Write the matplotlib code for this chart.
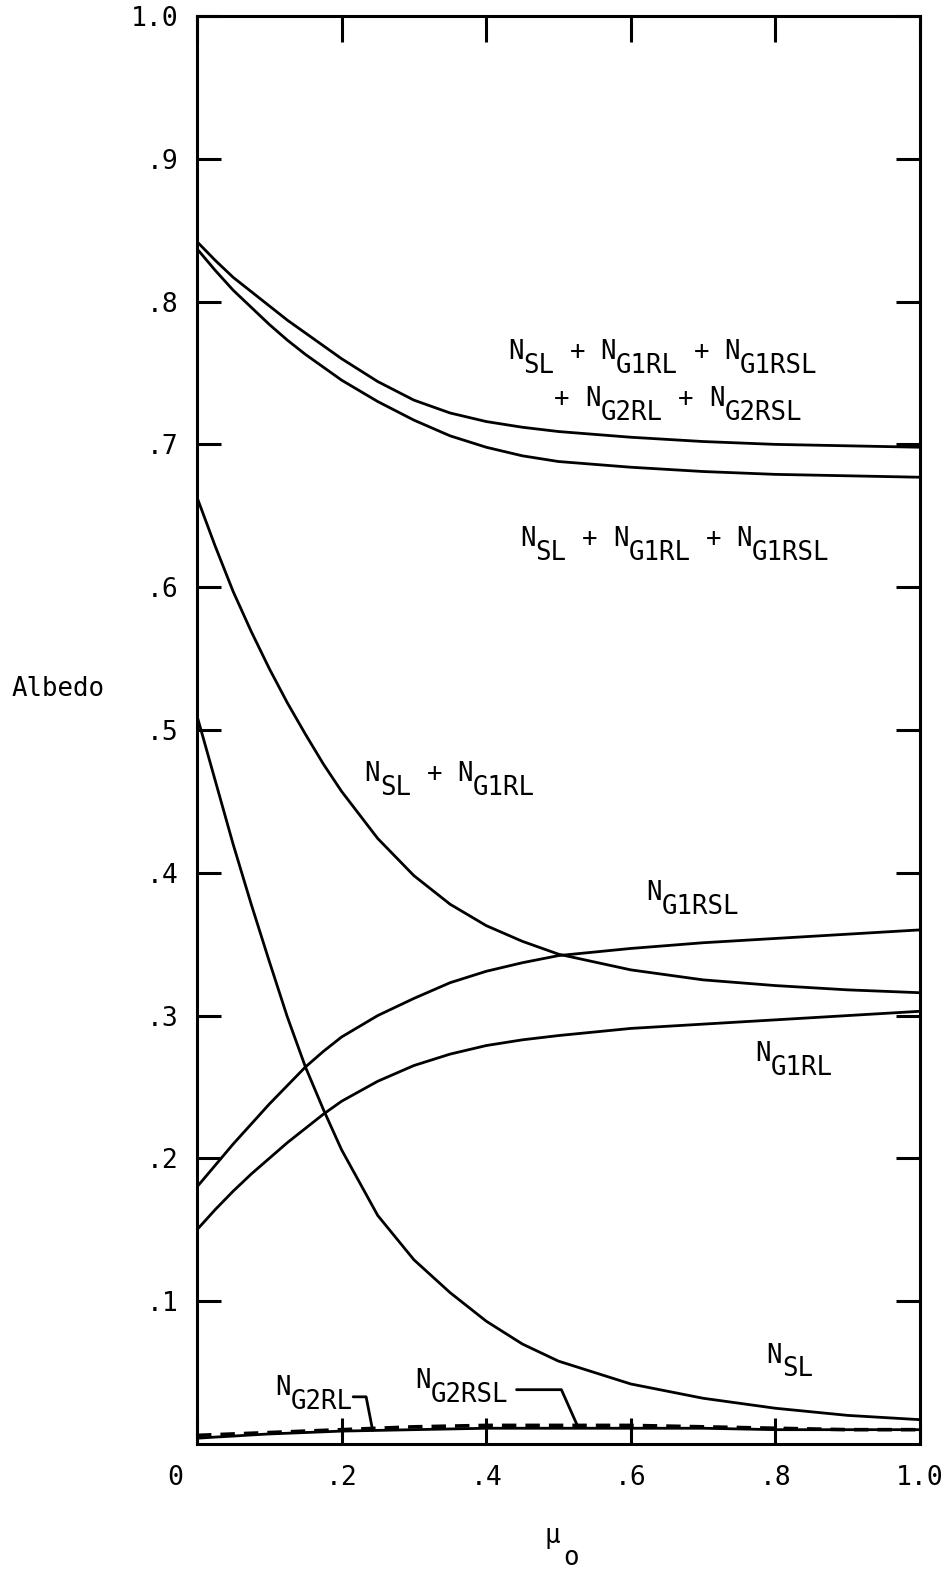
import matplotlib
matplotlib.use("Agg")
import matplotlib.pyplot as plt
import numpy as np

mu0 = [0.0, 0.025, 0.05, 0.075, 0.1, 0.125, 0.15, 0.175, 0.2, 0.25,
       0.3, 0.35, 0.4, 0.45, 0.5, 0.6, 0.7, 0.8, 0.9, 1.0]

n_total = [0.842, 0.829, 0.817, 0.807, 0.797, 0.787, 0.778, 0.769, 0.760, 0.744,
           0.731, 0.722, 0.716, 0.712, 0.709, 0.705, 0.702, 0.700, 0.699, 0.698]
n_sl_g1rl_g1rsl = [0.837, 0.822, 0.808, 0.796, 0.784, 0.773, 0.763, 0.754, 0.745, 0.730,
                   0.717, 0.706, 0.698, 0.692, 0.688, 0.684, 0.681, 0.679, 0.678, 0.677]
n_sl_g1rl = [0.663, 0.629, 0.597, 0.569, 0.543, 0.519, 0.497, 0.476, 0.457, 0.424,
             0.398, 0.378, 0.363, 0.352, 0.343, 0.332, 0.325, 0.321, 0.318, 0.316]
n_g1rsl = [0.180, 0.195, 0.210, 0.224, 0.238, 0.251, 0.264, 0.275, 0.285, 0.300,
           0.312, 0.323, 0.331, 0.337, 0.342, 0.347, 0.351, 0.354, 0.357, 0.360]
n_g1rl = [0.150, 0.164, 0.177, 0.189, 0.200, 0.211, 0.221, 0.231, 0.240, 0.254,
          0.265, 0.273, 0.279, 0.283, 0.286, 0.291, 0.294, 0.297, 0.300, 0.303]
n_sl = [0.510, 0.465, 0.420, 0.378, 0.338, 0.299, 0.264, 0.234, 0.206, 0.160,
        0.129, 0.106, 0.086, 0.070, 0.058, 0.042, 0.032, 0.025, 0.020, 0.017]
n_g2rl = [0.004, 0.0048, 0.0055, 0.0063, 0.007, 0.0075, 0.008, 0.0085, 0.009, 0.0095,
          0.010, 0.0105, 0.011, 0.011, 0.011, 0.011, 0.011, 0.010, 0.010, 0.010]
n_g2rsl = [0.006, 0.0065, 0.007, 0.0075, 0.008, 0.0085, 0.009, 0.0095, 0.010, 0.011,
           0.012, 0.0125, 0.013, 0.013, 0.013, 0.013, 0.012, 0.011, 0.010, 0.010]

y_ticks = [0.1, 0.2, 0.3, 0.4, 0.5, 0.6, 0.7, 0.8, 0.9, 1.0]
y_tick_labels = [".1", ".2", ".3", ".4", ".5", ".6", ".7", ".8", ".9", "1.0"]
x_ticks = [0.0, 0.2, 0.4, 0.6, 0.8, 1.0]
x_tick_labels = ["", ".2", ".4", ".6", ".8", "1.0"]

# curve labels: (x, y, text, starting column)
curve_labels = [
    (0.430, 0.760, "N_SL + N_G1RL + N_G1RSL", 0),
    (0.430, 0.727, "+ N_G2RL + N_G2RSL", 3),
    (0.447, 0.629, "N_SL + N_G1RL + N_G1RSL", 0),
    (0.232, 0.464, "N_SL + N_G1RL", 0),
    (0.622, 0.381, "N_G1RSL", 0),
    (0.772, 0.268, "N_G1RL", 0),
    (0.788, 0.057, "N_SL", 0),
    (0.108, 0.034, "N_G2RL", 0),
    (0.302, 0.039, "N_G2RSL", 0),
]

FONT = "DejaVu Sans Mono"
FS = 18.5
TICK_FS = 19
PITCH = 0.602 * FS   # monospace advance in points
SUB_DROP = 10        # subscript drop in points

plt.rcParams["font.family"] = [FONT, "DejaVu Sans"]
plt.rcParams["font.size"] = FS


def draw_label(ax, x, y, text, col0=0):
    """Draw 'N_SL + N_G1RL' style labels piece by piece on a monospace grid."""
    col = col0
    for tok in text.split(" "):
        if tok.startswith("N_"):
            ax.annotate("N", (x, y), xytext=(col * PITCH, 0), textcoords="offset points",
                        ha="left", va="baseline", fontsize=FS)
            ax.annotate(tok[2:], (x, y), xytext=((col + 1) * PITCH, -SUB_DROP),
                        textcoords="offset points", ha="left", va="baseline", fontsize=FS)
            col += len(tok) - 1
        else:
            ax.annotate(tok, (x, y), xytext=(col * PITCH, 0), textcoords="offset points",
                        ha="left", va="baseline", fontsize=FS)
            col += len(tok)
        col += 1


fig = plt.figure(figsize=(9.47, 15.69), dpi=100)
ax = fig.add_axes([0.208, 0.0797, 0.7635, 0.9101])

lw = 2.0
ax.plot(mu0, n_total, color="black", lw=lw)
ax.plot(mu0, n_sl_g1rl_g1rsl, color="black", lw=lw)
ax.plot(mu0, n_sl_g1rl, color="black", lw=lw)
ax.plot(mu0, n_g1rsl, color="black", lw=lw)
ax.plot(mu0, n_g1rl, color="black", lw=lw)
ax.plot(mu0, n_sl, color="black", lw=lw)
ax.plot(mu0, n_g2rl, color="black", lw=lw)
ax.plot(mu0, n_g2rsl, color="black", lw=2.6, linestyle=(0, (4, 2.5)))

ax.set_xlim(0, 1)
ax.set_ylim(0, 1)

for s in ax.spines.values():
    s.set_linewidth(2.2)

ax.set_yticks(y_ticks)
ax.set_yticklabels(y_tick_labels)
ax.set_xticks(x_ticks)
ax.set_xticklabels(x_tick_labels)
ax.tick_params(axis="y", direction="in", left=True, right=True, length=17, width=2.2,
               pad=13, labelsize=TICK_FS)
ax.tick_params(axis="x", direction="in", bottom=True, top=True, length=19, width=2.2,
               pad=15, labelsize=TICK_FS)
ax.annotate("0", (0, 0), xytext=(-16, -15), textcoords="offset points",
            ha="center", va="top", fontsize=TICK_FS)

ax.set_ylabel("Albedo", rotation=0, ha="left", va="center", fontsize=FS)
ax.yaxis.set_label_coords(-0.256, 0.529)

# x label: mu with subscript o
ax.annotate("μ", (0.491, 0), xycoords="axes fraction", xytext=(0, -71),
            textcoords="offset points", ha="center", va="baseline", fontsize=FS)
ax.annotate("o", (0.506, 0), xycoords="axes fraction", xytext=(0, -87),
            textcoords="offset points", ha="left", va="baseline", fontsize=FS)

for x, y, text, col in curve_labels:
    draw_label(ax, x, y, text, col)

# leader lines from the two small labels to their curves
ax.annotate("", xy=(0.243, np.interp(0.243, mu0, n_g2rl)), xytext=(0.216, 0.033),
            arrowprops=dict(arrowstyle="-", lw=2.0, shrinkA=0, shrinkB=0,
                            connectionstyle="angle,angleA=0,angleB=101,rad=0"))
ax.annotate("", xy=(0.526, np.interp(0.526, mu0, n_g2rsl)), xytext=(0.442, 0.038),
            arrowprops=dict(arrowstyle="-", lw=2.0, shrinkA=0, shrinkB=0,
                            connectionstyle="angle,angleA=0,angleB=114,rad=0"))

fig.savefig("out.png", dpi=100)
plt.close(fig)
